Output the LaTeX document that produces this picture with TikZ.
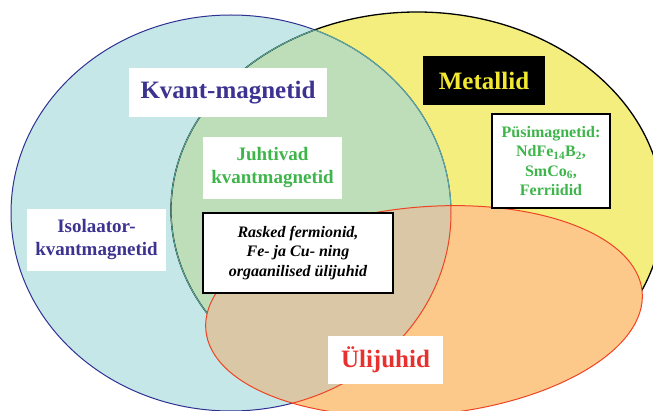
\documentclass[tikz,border=0pt]{standalone}
\usepackage{fontspec}
\setmainfont{Liberation Serif}

\definecolor{kvantfill}{HTML}{C5E7E8}
\definecolor{metalfill}{HTML}{F3EE7E}
\definecolor{juhtfill}{HTML}{BDDEB8}
\definecolor{ulifill}{HTML}{FDC98A}
\definecolor{raskfill}{HTML}{D9C7A6}
\definecolor{kvantline}{HTML}{2E3192}
\definecolor{juhtline}{HTML}{5AAA9C}
\definecolor{uliline}{HTML}{EE4423}
\definecolor{kvanttext}{HTML}{3C3391}
\definecolor{juhttext}{HTML}{3EB54A}
\definecolor{ulitext}{HTML}{E8312F}
\definecolor{metaltext}{HTML}{F2E831}

\newcommand{\kvantpath}{(231,213) ellipse [x radius=220, y radius=198]}
\newcommand{\metalpath}{(417,210) ellipse [x radius=246, y radius=198]}
\newcommand{\ulipath}{(424,311) ellipse [x radius=219, y radius=104]}

\begin{document}
\begin{tikzpicture}[x=1pt, y=-1pt,
  ulirot/.style={rotate around={5:(424,311)}},
  label/.style={fill=white, inner sep=0pt, align=center, font=\bfseries},
  bigtext/.style={font=\bfseries\fontsize{25}{30}\selectfont},
  midtext/.style={font=\bfseries\fontsize{19}{23}\selectfont},
  smalltext/.style={font=\bfseries\fontsize{16}{19.5}\selectfont},
  framed/.style={draw=black, line width=1.2pt}]
\useasboundingbox (0,0) rectangle (653,411);
% Ellipses
\fill[kvantfill] \kvantpath;
\fill[metalfill] \metalpath;
\begin{scope}
  \clip \kvantpath;
  \fill[juhtfill] \metalpath;
\end{scope}
\draw[kvantline, line width=1pt] \kvantpath;
\draw[black, line width=1.3pt] \metalpath;
\begin{scope}
  \clip \metalpath;
  \draw[juhtline, line width=1pt] \kvantpath;
\end{scope}
\begin{scope}
  \clip \kvantpath;
  \draw[juhtline, line width=1pt] \metalpath;
\end{scope}
\fill[ulifill, ulirot] \ulipath;
\begin{scope}
  \clip \kvantpath;
  \fill[raskfill, ulirot] \ulipath;
\end{scope}
\draw[uliline, line width=1pt, ulirot] \ulipath;
\begin{scope}
  \clip[ulirot] \ulipath;
  \draw[uliline, line width=1pt] \kvantpath;
\end{scope}
% Labels
\node[label, bigtext, text=kvanttext, minimum width=198pt, minimum height=49pt] (kvant) at (228,92.5) {Kvant-magnetid};
\node[label, bigtext, fill=black, text=metaltext, minimum width=122pt, minimum height=49pt] (metal) at (484,80.5) {Metallid};
\node[label, smalltext, framed, text=juhttext, minimum width=118pt, minimum height=94pt] (pusi) at (551,161)
  {Püsimagnetid:\\NdFe\textsubscript{14}B\textsubscript{2},\\SmCo\textsubscript{6},\\Ferriidid};
\node[label, midtext, text=juhttext, minimum width=139pt, minimum height=62pt] (juht) at (272.5,168) {Juhtivad\\kvantmagnetid};
\node[label, smalltext, framed, text=black, minimum width=190pt, minimum height=80pt] (rask) at (298,253)
  {\itshape Rasked fermionid,\\\itshape Fe- ja Cu- ning\\\itshape orgaanilised ülijuhid};
\node[label, midtext, text=kvanttext, minimum width=139pt, minimum height=62pt] (isol) at (96.5,240) {Isolaator-\\kvantmagnetid};
\node[label, bigtext, text=ulitext, minimum width=115pt, minimum height=48pt] (uli) at (385.5,360) {Ülijuhid};
\end{tikzpicture}
\end{document}
